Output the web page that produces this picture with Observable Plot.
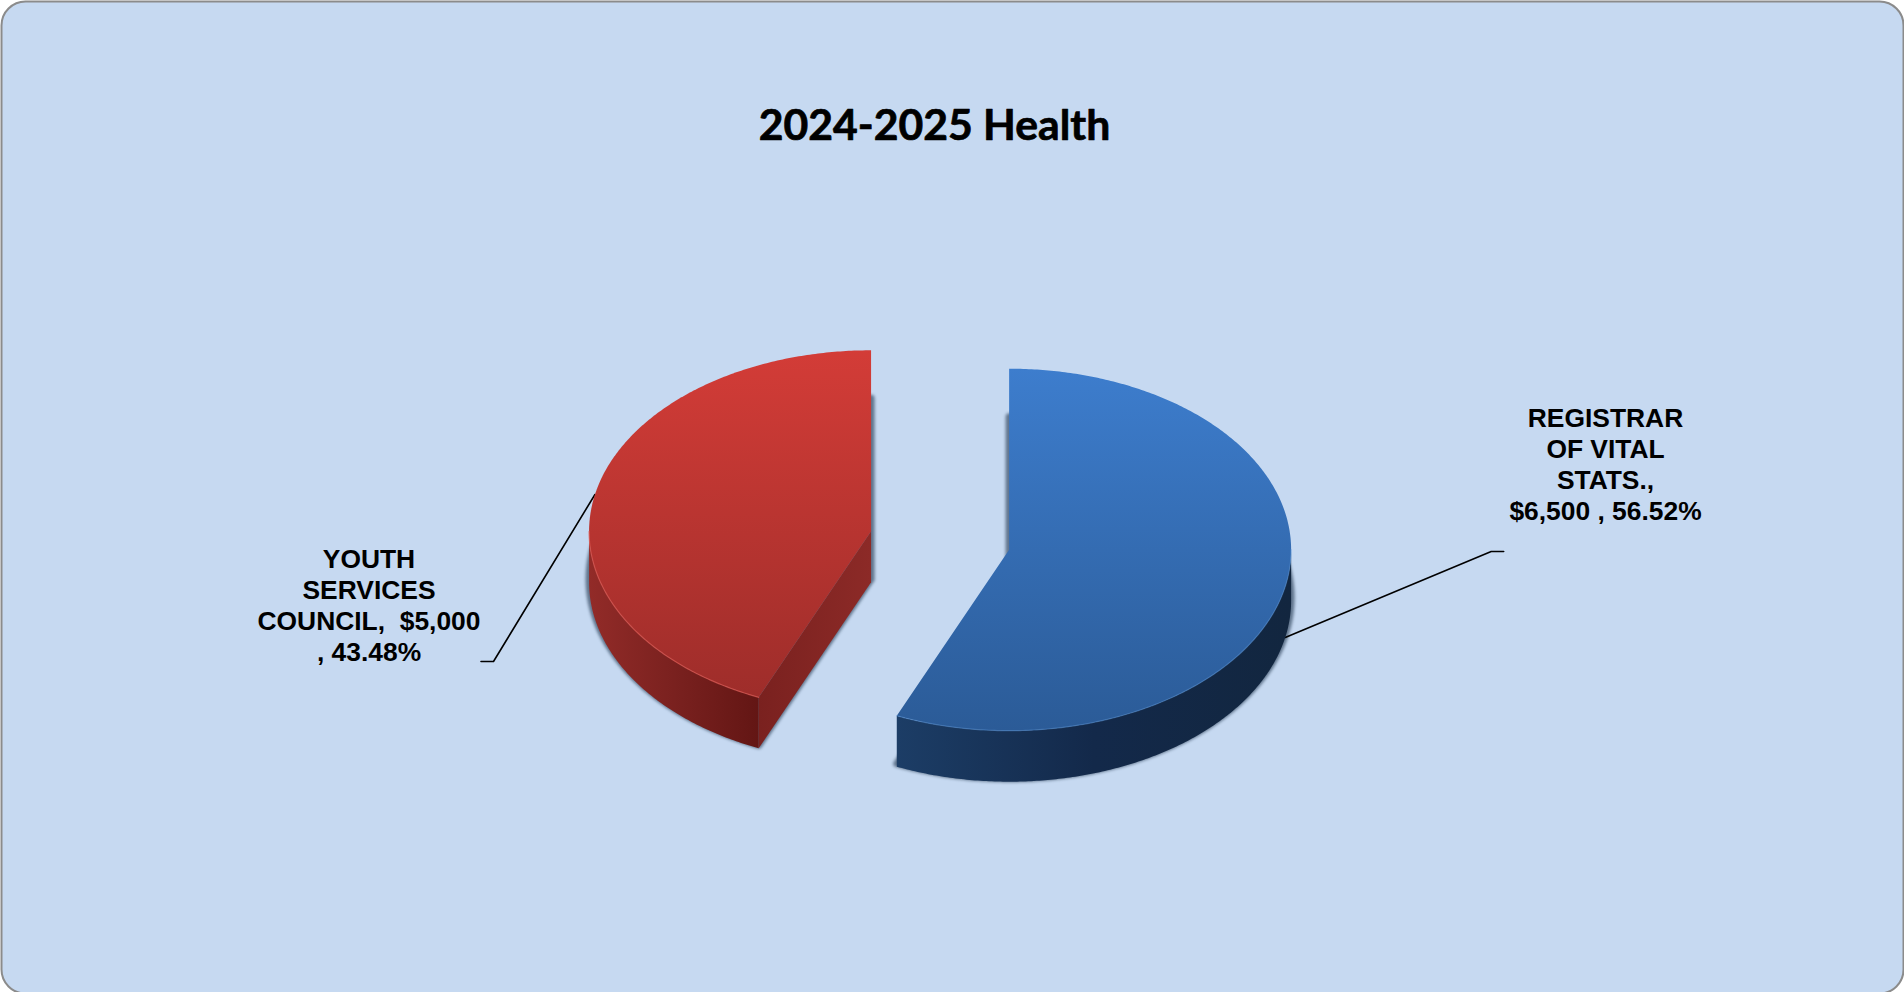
<!DOCTYPE html>
<html lang="en">
<head>
<meta charset="utf-8">
<title>2024-2025 Health</title>
<script src="https://cdn.jsdelivr.net/npm/d3@7"></script>
<script src="https://cdn.jsdelivr.net/npm/@observablehq/plot@0.6"></script>
<style>
  html, body { margin: 0; padding: 0; background: #fff; overflow: hidden; }
  svg { display: block; white-space: pre; }
  .pie-shadow { filter: blur(1.6px); }
</style>
</head>
<body>
<div id="chart"></div>
<script>
// Budget figures
const chartTitle = "2024-2025 Health";
const categories = ["Registrar of Vital Stats.", "Youth Services Council"];
const amounts = [6500, 5000];
const labelNames = [["REGISTRAR", "OF VITAL", "STATS.,"], ["YOUTH", "SERVICES", "COUNCIL, "]];

// Drawing layout
const W = 1904, H = 992;
const pieCenter = {x: 939.6, y: 540};
const rx = 282, ry = 181, depth = 51;
const explode = 0.25;
const shadowDrop = 48;
const labelAnchors = [{x: 1605, y: 404}, {x: 368.5, y: 545}];
const elbows = [{x: 1490.7, y: 551, tail: 12.5}, {x: 493, y: 661, tail: -12.5}];
const palette = [
  {top: ["#3d7dcd", "#2b5b97"], side: ["#1c3d66", "#13294a", "#12263f"], rim: "#5a97dc", rimOpacity: 0.45},
  {top: ["#d33c37", "#9e2d2a"], side: ["#922b28", "#7a211f", "#631614"], cut: ["#7a211f", "#8c2a27"], rim: "#e05a52", rimOpacity: 0.7}
];

const money = d3.format("$,");
const pct = d3.format(".2%");
const total = d3.sum(amounts);
const arcs = d3.pie().sort(null)(amounts);

// One entry per slice, with the centre pushed out along the mid-angle
const slices = arcs.map((a, i) => {
  const mid = (a.startAngle + a.endAngle) / 2;
  const c = {
    x: pieCenter.x + explode * rx * Math.sin(mid),
    y: pieCenter.y - explode * ry * Math.cos(mid)
  };
  return {i, name: categories[i], value: a.value, start: a.startAngle, end: a.endAngle, mid, c};
});

const at = (c, t, level = 0) => ({x: c.x + rx * Math.sin(t), y: c.y - ry * Math.cos(t) + level});
const arcPts = (c, t0, t1, level = 0) => {
  const n = Math.max(2, Math.ceil(Math.abs(t1 - t0) / 0.01));
  return d3.range(n + 1).map(k => at(c, t0 + (t1 - t0) * k / n, level));
};
const topFace = (s, level = 0) => {
  const hub = {x: s.c.x, y: s.c.y + level};
  return [hub, ...arcPts(s.c, s.start, s.end, level), hub];
};

// Part of the rim that faces the viewer: angles between a quarter and three quarters of a turn
const frontSpan = s => [Math.max(s.start, Math.PI / 2), Math.min(s.end, 3 * Math.PI / 2)];
const outerWall = s => {
  const [a, b] = frontSpan(s);
  return [...arcPts(s.c, a, b), ...arcPts(s.c, b, a, depth)];
};
const cutWall = s => {
  const p = at(s.c, s.start);
  return [{x: s.c.x, y: s.c.y}, p, {x: p.x, y: p.y + depth}, {x: s.c.x, y: s.c.y + depth}];
};

// Gradients referenced by the faces
const gradient = (defs, id, stops, vertical) => {
  const g = defs.append("linearGradient").attr("id", id)
    .attr("x1", 0).attr("y1", 0)
    .attr("x2", vertical ? 0 : 1).attr("y2", vertical ? 1 : 0);
  stops.forEach((c, k) => g.append("stop").attr("offset", k / (stops.length - 1)).attr("stop-color", c));
};
const gradients = () => {
  const defs = d3.create("svg:defs");
  palette.forEach((p, i) => {
    gradient(defs, `top${i}`, p.top, true);
    gradient(defs, `side${i}`, p.side, false);
    if (p.cut) gradient(defs, `cut${i}`, p.cut, false);
  });
  return defs.node();
};

const poly = (pts, fill) => Plot.line(pts, {x: "x", y: "y", fill, stroke: "none"});

const leader = slices.map((s, i) => {
  const onRight = s.mid < Math.PI;
  const a = at(s.c, s.mid, onRight ? depth : 0);
  const e = elbows[i];
  return [a, {x: e.x, y: e.y}, {x: e.x + e.tail, y: e.y}];
});

const labels = slices.map((s, i) => {
  const names = labelNames[i];
  const text = s.mid < Math.PI
    ? [...names, `${money(s.value)} , ${pct(s.value / total)}`]
    : [...names.slice(0, 2), `${names[2]} ${money(s.value)}`, `, ${pct(s.value / total)}`];
  return {text: text.join("\n"), ...labelAnchors[i]};
});

const plot = Plot.plot({
  width: W,
  height: H,
  margin: 0,
  x: {domain: [0, W], range: [0, W], axis: null},
  y: {domain: [0, H], range: [0, H], axis: null},
  marks: [
    gradients,
    Plot.frame({rx: 24, fill: "#c6d9f1", stroke: "#8b8b8b", strokeWidth: 2, insetLeft: 1, insetTop: 1, insetRight: 1, insetBottom: -1}),
    // Title
    Plot.text([chartTitle], {
      x: () => 934, y: () => 126, text: d => d,
      fontFamily: "Lato", fontWeight: 700, fontSize: 42.7, fill: "#000", stroke: "#000", strokeWidth: 0.7
    }),
    // Soft shadows cast below each slice
    ...slices.map(s => Plot.line(topFace(s, shadowDrop), {
      x: "x", y: "y", fill: "#23384f", stroke: "#23384f", strokeWidth: 7,
      strokeLinejoin: "round", opacity: 0.62, className: "pie-shadow"
    })),
    // Leader lines
    ...leader.map(l => Plot.line(l, {x: "x", y: "y", stroke: "#000", strokeWidth: 1.6, curve: "linear"})),
    // Slices: walls first, then the top face and its lit rim
    ...slices.flatMap(s => {
      const p = palette[s.i];
      const [a, b] = frontSpan(s);
      return [
        poly(outerWall(s), `url(#side${s.i})`),
        ...(p.cut ? [poly(cutWall(s), `url(#cut${s.i})`)] : []),
        poly(topFace(s), `url(#top${s.i})`),
        Plot.line(arcPts(s.c, a, b), {x: "x", y: "y", stroke: p.rim, strokeWidth: 1.2, strokeOpacity: p.rimOpacity})
      ];
    }),
    // Data labels
    Plot.text(labels, {
      x: "x", y: "y", text: "text",
      lineAnchor: "top", textAnchor: "middle", lineHeight: 31 / 26.4,
      fontFamily: "Liberation Sans", fontWeight: 700, fontSize: 26.4, fill: "#000"
    })
  ]
});

document.getElementById("chart").append(plot);
</script>
</body>
</html>
